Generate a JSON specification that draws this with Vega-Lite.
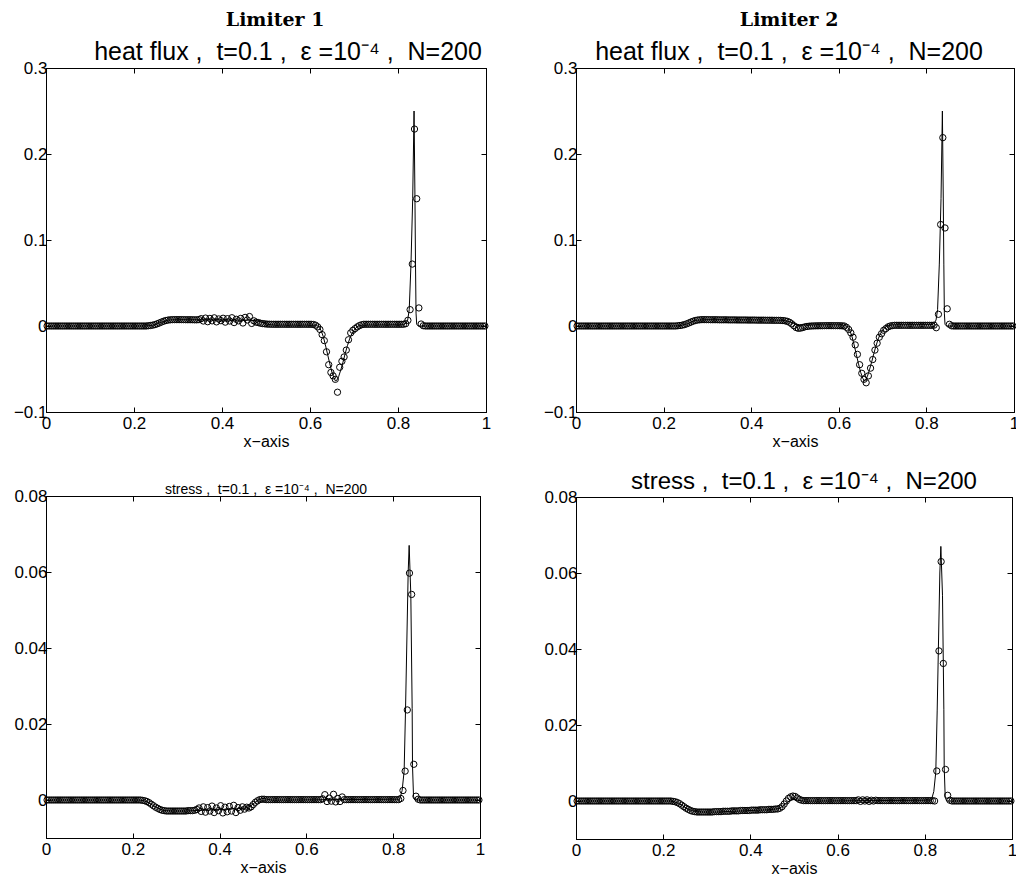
{
  "$schema": "https://vega.github.io/schema/vega-lite/v6.json",
  "background": "white",
  "padding": {"left": 12, "top": 10, "right": 0, "bottom": 0},
  "datasets": {
    "refh": [
      {"x":0,"v":0},{"x":0.22,"v":0},{"x":0.235,"v":0.0003},{"x":0.245,"v":0.0012},{"x":0.255,"v":0.0028},{"x":0.265,"v":0.005},{"x":0.275,"v":0.0066},{"x":0.285,"v":0.0072},{"x":0.3,"v":0.0074},{"x":0.35,"v":0.0073},{"x":0.4,"v":0.0071},{"x":0.45,"v":0.0068},{"x":0.47,"v":0.0066},{"x":0.48,"v":0.006},{"x":0.49,"v":0.0045},{"x":0.5,"v":0.0025},{"x":0.51,"v":0.0015},{"x":0.52,"v":0.0012},{"x":0.6,"v":0.0012},{"x":0.615,"v":0.0008},{"x":0.62,"v":-0.001},{"x":0.625,"v":-0.005},{"x":0.63,"v":-0.012},{"x":0.635,"v":-0.022},{"x":0.64,"v":-0.033},{"x":0.645,"v":-0.044},{"x":0.65,"v":-0.054},{"x":0.655,"v":-0.061},{"x":0.658,"v":-0.064},{"x":0.661,"v":-0.063},{"x":0.665,"v":-0.059},{"x":0.67,"v":-0.051},{"x":0.675,"v":-0.042},{"x":0.68,"v":-0.032},{"x":0.685,"v":-0.023},{"x":0.69,"v":-0.015},{"x":0.695,"v":-0.009},{"x":0.7,"v":-0.005},{"x":0.705,"v":-0.002},{"x":0.71,"v":0},{"x":0.72,"v":0.0012},{"x":0.81,"v":0.0015},{"x":0.818,"v":0.003},{"x":0.822,"v":0.007},{"x":0.8255,"v":0.019},{"x":0.8295,"v":0.072},{"x":0.8334,"v":0.148},{"x":0.8365,"v":0.25},{"x":0.8385,"v":0.15},{"x":0.8398,"v":0.072},{"x":0.841,"v":0.015},{"x":0.8425,"v":0.002},{"x":0.846,"v":0},{"x":1,"v":0}
    ],
    "refs": [
      {"x":0,"v":0},{"x":0.215,"v":0},{"x":0.225,"v":-0.0002},{"x":0.235,"v":-0.0006},{"x":0.245,"v":-0.0013},{"x":0.255,"v":-0.002},{"x":0.265,"v":-0.0025},{"x":0.275,"v":-0.0028},{"x":0.29,"v":-0.0029},{"x":0.32,"v":-0.0029},{"x":0.36,"v":-0.0027},{"x":0.4,"v":-0.0025},{"x":0.44,"v":-0.0023},{"x":0.46,"v":-0.0021},{"x":0.47,"v":-0.0017},{"x":0.48,"v":-0.0008},{"x":0.49,"v":0.0001},{"x":0.5,"v":0.0004},{"x":0.51,"v":0.0002},{"x":0.52,"v":0},{"x":0.815,"v":0.0002},{"x":0.8206,"v":0.0025},{"x":0.8252,"v":0.0076},{"x":0.8284,"v":0.0237},{"x":0.8345,"v":0.06},{"x":0.8368,"v":0.067},{"x":0.8406,"v":0.054},{"x":0.8437,"v":0.024},{"x":0.8445,"v":0.009},{"x":0.8468,"v":0.001},{"x":0.85,"v":0},{"x":1,"v":0}
    ],
    "num": [
      {"x":0.0025,"h1":0,"h2":0,"s1":0,"s2":0},{"x":0.0075,"h1":0,"h2":0,"s1":0,"s2":0},{"x":0.0125,"h1":0,"h2":0,"s1":0,"s2":0},{"x":0.0175,"h1":0,"h2":0,"s1":0,"s2":0},{"x":0.0225,"h1":0,"h2":0,"s1":0,"s2":0},{"x":0.0275,"h1":0,"h2":0,"s1":0,"s2":0},{"x":0.0325,"h1":0,"h2":0,"s1":0,"s2":0},{"x":0.0375,"h1":0,"h2":0,"s1":0,"s2":0},{"x":0.0425,"h1":0,"h2":0,"s1":0,"s2":0},{"x":0.0475,"h1":0,"h2":0,"s1":0,"s2":0},
      {"x":0.0525,"h1":0,"h2":0,"s1":0,"s2":0},{"x":0.0575,"h1":0,"h2":0,"s1":0,"s2":0},{"x":0.0625,"h1":0,"h2":0,"s1":0,"s2":0},{"x":0.0675,"h1":0,"h2":0,"s1":0,"s2":0},{"x":0.0725,"h1":0,"h2":0,"s1":0,"s2":0},{"x":0.0775,"h1":0,"h2":0,"s1":0,"s2":0},{"x":0.0825,"h1":0,"h2":0,"s1":0,"s2":0},{"x":0.0875,"h1":0,"h2":0,"s1":0,"s2":0},{"x":0.0925,"h1":0,"h2":0,"s1":0,"s2":0},{"x":0.0975,"h1":0,"h2":0,"s1":0,"s2":0},
      {"x":0.1025,"h1":0,"h2":0,"s1":0,"s2":0},{"x":0.1075,"h1":0,"h2":0,"s1":0,"s2":0},{"x":0.1125,"h1":0,"h2":0,"s1":0,"s2":0},{"x":0.1175,"h1":0,"h2":0,"s1":0,"s2":0},{"x":0.1225,"h1":0,"h2":0,"s1":0,"s2":0},{"x":0.1275,"h1":0,"h2":0,"s1":0,"s2":0},{"x":0.1325,"h1":0,"h2":0,"s1":0,"s2":0},{"x":0.1375,"h1":0,"h2":0,"s1":0,"s2":0},{"x":0.1425,"h1":0,"h2":0,"s1":0,"s2":0},{"x":0.1475,"h1":0,"h2":0,"s1":0,"s2":0},
      {"x":0.1525,"h1":0,"h2":0,"s1":0,"s2":0},{"x":0.1575,"h1":0,"h2":0,"s1":0,"s2":0},{"x":0.1625,"h1":0,"h2":0,"s1":0,"s2":0},{"x":0.1675,"h1":0,"h2":0,"s1":0,"s2":0},{"x":0.1725,"h1":0,"h2":0,"s1":0,"s2":0},{"x":0.1775,"h1":0,"h2":0,"s1":0,"s2":0},{"x":0.1825,"h1":0,"h2":0,"s1":0,"s2":0},{"x":0.1875,"h1":0,"h2":0,"s1":0,"s2":0},{"x":0.1925,"h1":0,"h2":0,"s1":0,"s2":0},{"x":0.1975,"h1":0,"h2":0,"s1":0,"s2":0},
      {"x":0.2025,"h1":0,"h2":0,"s1":0,"s2":0},{"x":0.2075,"h1":0,"h2":0,"s1":0,"s2":0},{"x":0.2125,"h1":0,"h2":0,"s1":0,"s2":0},{"x":0.2175,"h1":0,"h2":0,"s1":0,"s2":0},
      {"x":0.2225,"h1":0,"h2":0,"s1":-0.0001,"s2":-0.0001},{"x":0.2275,"h1":0,"h2":0,"s1":-0.0002,"s2":-0.0002},{"x":0.2325,"h1":0.0003,"h2":0.0003,"s1":-0.0004,"s2":-0.0004},{"x":0.2375,"h1":0.0006,"h2":0.0006,"s1":-0.0007,"s2":-0.0007},{"x":0.2425,"h1":0.001,"h2":0.001,"s1":-0.0011,"s2":-0.0011},{"x":0.2475,"h1":0.0016,"h2":0.0016,"s1":-0.0015,"s2":-0.0015},
      {"x":0.2525,"h1":0.0025,"h2":0.0025,"s1":-0.0019,"s2":-0.0019},{"x":0.2575,"h1":0.0035,"h2":0.0035,"s1":-0.0022,"s2":-0.0022},{"x":0.2625,"h1":0.0046,"h2":0.0046,"s1":-0.0025,"s2":-0.0025},{"x":0.2675,"h1":0.0056,"h2":0.0056,"s1":-0.0027,"s2":-0.0027},{"x":0.2725,"h1":0.0064,"h2":0.0064,"s1":-0.0028,"s2":-0.0028},{"x":0.2775,"h1":0.0069,"h2":0.0069,"s1":-0.0029,"s2":-0.0029},
      {"x":0.2825,"h1":0.0072,"h2":0.0072,"s1":-0.0029,"s2":-0.0029},{"x":0.2875,"h1":0.0074,"h2":0.0074,"s1":-0.0029,"s2":-0.0029},{"x":0.2925,"h1":0.0074,"h2":0.0074,"s1":-0.0029,"s2":-0.0029},{"x":0.2975,"h1":0.0074,"h2":0.0074,"s1":-0.0029,"s2":-0.0029},{"x":0.3025,"h1":0.0074,"h2":0.0074,"s1":-0.0029,"s2":-0.0029},{"x":0.3075,"h1":0.0074,"h2":0.0073,"s1":-0.0029,"s2":-0.0029},
      {"x":0.3125,"h1":0.0074,"h2":0.0073,"s1":-0.0029,"s2":-0.0029},{"x":0.3175,"h1":0.0073,"h2":0.0073,"s1":-0.0029,"s2":-0.0028},{"x":0.3225,"h1":0.0073,"h2":0.0073,"s1":-0.0029,"s2":-0.0028},{"x":0.3275,"h1":0.0073,"h2":0.0072,"s1":-0.0028,"s2":-0.0028},{"x":0.3325,"h1":0.0073,"h2":0.0072,"s1":-0.0028,"s2":-0.0028},{"x":0.3375,"h1":0.0072,"h2":0.0072,"s1":-0.0028,"s2":-0.0027},
      {"x":0.3425,"h1":0.0072,"h2":0.0072,"s1":-0.0027,"s2":-0.0027},{"x":0.3475,"h1":0.0074,"h2":0.0071,"s1":-0.0025,"s2":-0.0027},{"x":0.3525,"h1":0.0085,"h2":0.0071,"s1":-0.0021,"s2":-0.0027},{"x":0.3575,"h1":0.0058,"h2":0.0071,"s1":-0.003,"s2":-0.0026},{"x":0.3625,"h1":0.0092,"h2":0.0071,"s1":-0.0018,"s2":-0.0026},{"x":0.3675,"h1":0.005,"h2":0.007,"s1":-0.0032,"s2":-0.0026},
      {"x":0.3725,"h1":0.0088,"h2":0.007,"s1":-0.002,"s2":-0.0026},{"x":0.3775,"h1":0.006,"h2":0.007,"s1":-0.0029,"s2":-0.0025},{"x":0.3825,"h1":0.0095,"h2":0.007,"s1":-0.0016,"s2":-0.0025},{"x":0.3875,"h1":0.0048,"h2":0.007,"s1":-0.0033,"s2":-0.0025},{"x":0.3925,"h1":0.0082,"h2":0.0069,"s1":-0.0021,"s2":-0.0025},{"x":0.3975,"h1":0.0062,"h2":0.0069,"s1":-0.0028,"s2":-0.0025},
      {"x":0.4025,"h1":0.009,"h2":0.0069,"s1":-0.0015,"s2":-0.0024},{"x":0.4075,"h1":0.0045,"h2":0.0069,"s1":-0.0034,"s2":-0.0024},{"x":0.4125,"h1":0.0085,"h2":0.0068,"s1":-0.0019,"s2":-0.0024},{"x":0.4175,"h1":0.0058,"h2":0.0068,"s1":-0.0031,"s2":-0.0024},{"x":0.4225,"h1":0.0096,"h2":0.0068,"s1":-0.0017,"s2":-0.0023},{"x":0.4275,"h1":0.004,"h2":0.0068,"s1":-0.0029,"s2":-0.0023},
      {"x":0.4325,"h1":0.0078,"h2":0.0067,"s1":-0.0014,"s2":-0.0023},{"x":0.4375,"h1":0.006,"h2":0.0067,"s1":-0.0033,"s2":-0.0023},{"x":0.4425,"h1":0.0088,"h2":0.0067,"s1":-0.002,"s2":-0.0022},{"x":0.4475,"h1":0.0035,"h2":0.0067,"s1":-0.0027,"s2":-0.0022},{"x":0.4525,"h1":0.01,"h2":0.0066,"s1":-0.0018,"s2":-0.0022},{"x":0.4575,"h1":0.007,"h2":0.0066,"s1":-0.0024,"s2":-0.0021},
      {"x":0.4625,"h1":0.011,"h2":0.0066,"s1":-0.0019,"s2":-0.0021},{"x":0.4675,"h1":0.003,"h2":0.0065,"s1":-0.0021,"s2":-0.0019},{"x":0.4725,"h1":0.006,"h2":0.0063,"s1":-0.0018,"s2":-0.0015},{"x":0.4775,"h1":0.0045,"h2":0.006,"s1":-0.0012,"s2":-0.0008},{"x":0.4825,"h1":0.004,"h2":0.0054,"s1":-0.0006,"s2":0},{"x":0.4875,"h1":0.0032,"h2":0.0043,"s1":-0.0002,"s2":0.0007},
      {"x":0.4925,"h1":0.0028,"h2":0.0025,"s1":0.0001,"s2":0.0011},{"x":0.4975,"h1":0.0025,"h2":0.0003,"s1":0.0002,"s2":0.0013},{"x":0.5025,"h1":0.0022,"h2":-0.0018,"s1":0.0002,"s2":0.0012},{"x":0.5075,"h1":0.0021,"h2":-0.0027,"s1":0.0001,"s2":0.0008},{"x":0.5125,"h1":0.002,"h2":-0.0025,"s1":0.0001,"s2":0.0004},{"x":0.5175,"h1":0.002,"h2":-0.0018,"s1":0.0001,"s2":0.0002},
      {"x":0.5225,"h1":0.002,"h2":-0.001,"s1":0.0001,"s2":0.0001},{"x":0.5275,"h1":0.002,"h2":-0.0005,"s1":0.0001,"s2":0.0001},{"x":0.5325,"h1":0.002,"h2":-0.0002,"s1":0.0001,"s2":0.0001},{"x":0.5375,"h1":0.002,"h2":0,"s1":0.0001,"s2":0.0001},{"x":0.5425,"h1":0.002,"h2":0.0001,"s1":0.0001,"s2":0.0001},{"x":0.5475,"h1":0.002,"h2":0.0002,"s1":0.0001,"s2":0.0001},
      {"x":0.5525,"h1":0.002,"h2":0.0002,"s1":0.0001,"s2":0.0001},{"x":0.5575,"h1":0.002,"h2":0.0003,"s1":0.0001,"s2":0.0001},{"x":0.5625,"h1":0.002,"h2":0.0003,"s1":0.0001,"s2":0.0001},{"x":0.5675,"h1":0.002,"h2":0.0004,"s1":0.0001,"s2":0.0001},{"x":0.5725,"h1":0.002,"h2":0.0004,"s1":0.0001,"s2":0.0001},{"x":0.5775,"h1":0.002,"h2":0.0004,"s1":0.0001,"s2":0.0001},
      {"x":0.5825,"h1":0.002,"h2":0.0004,"s1":0.0001,"s2":0.0001},{"x":0.5875,"h1":0.002,"h2":0.0004,"s1":0.0001,"s2":0.0001},{"x":0.5925,"h1":0.002,"h2":0.0004,"s1":0.0001,"s2":0.0001},{"x":0.5975,"h1":0.002,"h2":0.0004,"s1":0.0001,"s2":0.0001},{"x":0.6025,"h1":0.002,"h2":0.0003,"s1":0.0001,"s2":0.0001},{"x":0.6075,"h1":0.0018,"h2":0.0002,"s1":0.0001,"s2":0.0001},
      {"x":0.6125,"h1":0.001,"h2":0,"s1":0.0001,"s2":0.0001},{"x":0.6175,"h1":-0.001,"h2":-0.0015,"s1":0.0001,"s2":0.0001},{"x":0.6225,"h1":-0.004,"h2":-0.004,"s1":0.0001,"s2":0.0001},{"x":0.6275,"h1":-0.01,"h2":-0.008,"s1":0.0001,"s2":0.0001},{"x":0.6325,"h1":-0.017,"h2":-0.013,"s1":0.0001,"s2":0.0001},{"x":0.6375,"h1":-0.03,"h2":-0.022,"s1":0.0003,"s2":0.0001},
      {"x":0.6425,"h1":-0.045,"h2":-0.033,"s1":0.0014,"s2":0.0001},{"x":0.6475,"h1":-0.054,"h2":-0.045,"s1":-0.0004,"s2":0.0003},{"x":0.6525,"h1":-0.058,"h2":-0.055,"s1":0.0005,"s2":-0.0001},{"x":0.6575,"h1":-0.062,"h2":-0.062,"s1":-0.0003,"s2":0.0003},{"x":0.6625,"h1":-0.077,"h2":-0.066,"s1":0.0015,"s2":0},{"x":0.6675,"h1":-0.048,"h2":-0.058,"s1":-0.0005,"s2":0.0003},
      {"x":0.6725,"h1":-0.041,"h2":-0.049,"s1":0.0004,"s2":-0.0001},{"x":0.6775,"h1":-0.036,"h2":-0.039,"s1":-0.0004,"s2":0.0002},{"x":0.6825,"h1":-0.028,"h2":-0.028,"s1":0.0008,"s2":0},{"x":0.6875,"h1":-0.016,"h2":-0.02,"s1":0.0001,"s2":0.0002},{"x":0.6925,"h1":-0.008,"h2":-0.013,"s1":0.0001,"s2":0.0001},{"x":0.6975,"h1":-0.005,"h2":-0.009,"s1":0.0001,"s2":0.0001},
      {"x":0.7025,"h1":-0.003,"h2":-0.005,"s1":0.0001,"s2":0.0001},{"x":0.7075,"h1":-0.001,"h2":-0.003,"s1":0.0001,"s2":0.0001},{"x":0.7125,"h1":0.0005,"h2":-0.001,"s1":0.0001,"s2":0.0001},{"x":0.7175,"h1":0.0015,"h2":0,"s1":0.0001,"s2":0.0001},{"x":0.7225,"h1":0.002,"h2":0.0005,"s1":0.0001,"s2":0.0001},
      {"x":0.7275,"h1":0.002,"h2":0.0008,"s1":0.0001,"s2":0.0001},{"x":0.7325,"h1":0.002,"h2":0.0008,"s1":0.0001,"s2":0.0001},{"x":0.7375,"h1":0.002,"h2":0.0008,"s1":0.0001,"s2":0.0001},{"x":0.7425,"h1":0.002,"h2":0.0008,"s1":0.0001,"s2":0.0001},{"x":0.7475,"h1":0.002,"h2":0.0008,"s1":0.0001,"s2":0.0001},{"x":0.7525,"h1":0.002,"h2":0.0008,"s1":0.0001,"s2":0.0001},
      {"x":0.7575,"h1":0.002,"h2":0.0008,"s1":0.0001,"s2":0.0001},{"x":0.7625,"h1":0.002,"h2":0.0008,"s1":0.0001,"s2":0.0001},{"x":0.7675,"h1":0.002,"h2":0.0008,"s1":0.0001,"s2":0.0001},{"x":0.7725,"h1":0.002,"h2":0.0008,"s1":0.0001,"s2":0.0001},{"x":0.7775,"h1":0.002,"h2":0.0008,"s1":0.0001,"s2":0.0001},{"x":0.7825,"h1":0.002,"h2":0.0008,"s1":0.0001,"s2":0.0001},
      {"x":0.7875,"h1":0.002,"h2":0.0008,"s1":0.0001,"s2":0.0001},{"x":0.7925,"h1":0.002,"h2":0.0008,"s1":0.0001,"s2":0.0001},{"x":0.7975,"h1":0.002,"h2":0.0008,"s1":0.0001,"s2":0.0001},{"x":0.8025,"h1":0.002,"h2":0.0008,"s1":0.0001,"s2":0.0001},{"x":0.8075,"h1":0.002,"h2":0.0008,"s1":0.0001,"s2":0.0001},{"x":0.8125,"h1":0.002,"h2":0.0008,"s1":0.0001,"s2":0.0001},
      {"x":0.8175,"h1":0.0027,"h2":0.001,"s1":0.0004,"s2":0.0001},{"x":0.8225,"h1":0.0066,"h2":-0.002,"s1":0.0025,"s2":0},{"x":0.8275,"h1":0.019,"h2":0.0136,"s1":0.0076,"s2":0.0079},{"x":0.8325,"h1":0.072,"h2":0.118,"s1":0.0237,"s2":0.0395},{"x":0.8375,"h1":0.229,"h2":0.219,"s1":0.0597,"s2":0.063},{"x":0.8425,"h1":0.148,"h2":0.114,"s1":0.0541,"s2":0.0362},
      {"x":0.8475,"h1":0.021,"h2":0.02,"s1":0.0094,"s2":0.0083},{"x":0.8525,"h1":0.0023,"h2":0.002,"s1":0.001,"s2":0.0015},{"x":0.8575,"h1":0.0003,"h2":0.0002,"s1":0.0002,"s2":0.0002},
      {"x":0.8625,"h1":0,"h2":0,"s1":0,"s2":0},{"x":0.8675,"h1":0,"h2":0,"s1":0,"s2":0},{"x":0.8725,"h1":0,"h2":0,"s1":0,"s2":0},{"x":0.8775,"h1":0,"h2":0,"s1":0,"s2":0},{"x":0.8825,"h1":0,"h2":0,"s1":0,"s2":0},{"x":0.8875,"h1":0,"h2":0,"s1":0,"s2":0},{"x":0.8925,"h1":0,"h2":0,"s1":0,"s2":0},
      {"x":0.8975,"h1":0,"h2":0,"s1":0,"s2":0},{"x":0.9025,"h1":0,"h2":0,"s1":0,"s2":0},{"x":0.9075,"h1":0,"h2":0,"s1":0,"s2":0},{"x":0.9125,"h1":0,"h2":0,"s1":0,"s2":0},{"x":0.9175,"h1":0,"h2":0,"s1":0,"s2":0},{"x":0.9225,"h1":0,"h2":0,"s1":0,"s2":0},{"x":0.9275,"h1":0,"h2":0,"s1":0,"s2":0},
      {"x":0.9325,"h1":0,"h2":0,"s1":0,"s2":0},{"x":0.9375,"h1":0,"h2":0,"s1":0,"s2":0},{"x":0.9425,"h1":0,"h2":0,"s1":0,"s2":0},{"x":0.9475,"h1":0,"h2":0,"s1":0,"s2":0},{"x":0.9525,"h1":0,"h2":0,"s1":0,"s2":0},{"x":0.9575,"h1":0,"h2":0,"s1":0,"s2":0},{"x":0.9625,"h1":0,"h2":0,"s1":0,"s2":0},
      {"x":0.9675,"h1":0,"h2":0,"s1":0,"s2":0},{"x":0.9725,"h1":0,"h2":0,"s1":0,"s2":0},{"x":0.9775,"h1":0,"h2":0,"s1":0,"s2":0},{"x":0.9825,"h1":0,"h2":0,"s1":0,"s2":0},{"x":0.9875,"h1":0,"h2":0,"s1":0,"s2":0},{"x":0.9925,"h1":0,"h2":0,"s1":0,"s2":0},{"x":0.9975,"h1":0,"h2":0,"s1":0,"s2":0}
    ]
  },
  "spacing": 50,
  "hconcat": [
    {
      "title": {"text": "Limiter 1", "font": "DejaVu Serif", "fontSize": 19, "fontWeight": "bold", "anchor": "middle", "offset": 10, "dx": 23},
      "spacing": 32,
      "vconcat": [
        {
          "width": 440, "height": 344,
          "title": {"text": "heat flux ,\u00a0 t=0.1 ,\u00a0 ε =10⁻⁴ ,\u00a0 N=200", "fontSize": 25, "anchor": "middle", "frame": "group", "offset": -6, "dx": 22},
          "layer": [
            {"data": {"name": "refh"}, "mark": {"type": "line", "color": "black", "strokeWidth": 1},
             "encoding": {
               "x": {"field": "x", "type": "quantitative", "scale": {"domain": [0, 1], "nice": false, "zero": false}, "axis": {"orient": "bottom", "values": [0, 0.2, 0.4, 0.6, 0.8, 1], "format": "~g", "title": "x−axis"}},
               "y": {"field": "v", "type": "quantitative", "scale": {"domain": [-0.1, 0.3], "nice": false, "zero": false}, "axis": {"orient": "left", "values": [-0.1, 0, 0.1, 0.2, 0.3], "format": "~g", "title": null}}
             }},
            {"data": {"name": "num"}, "mark": {"type": "point", "shape": "circle", "size": 40, "filled": false, "color": "black", "strokeWidth": 1, "opacity": 1},
             "encoding": {
               "x": {"field": "x", "type": "quantitative", "scale": {"domain": [0, 1], "nice": false, "zero": false}, "axis": {"orient": "top", "values": [0, 0.2, 0.4, 0.6, 0.8, 1], "labels": false, "title": null}},
               "y": {"field": "h1", "type": "quantitative", "scale": {"domain": [-0.1, 0.3], "nice": false, "zero": false}, "axis": {"orient": "right", "values": [-0.1, 0, 0.1, 0.2, 0.3], "labels": false, "title": null}}
             }}
          ],
          "resolve": {"axis": {"x": "independent", "y": "independent"}}
        },
        {
          "width": 434, "height": 342,
          "title": {"text": "stress ,\u00a0 t=0.1 ,\u00a0 ε =10⁻⁴ ,\u00a0 N=200", "fontSize": 14, "anchor": "middle", "frame": "group", "offset": -10, "dx": 3},
          "layer": [
            {"data": {"name": "refs"}, "mark": {"type": "line", "color": "black", "strokeWidth": 1},
             "encoding": {
               "x": {"field": "x", "type": "quantitative", "scale": {"domain": [0, 1], "nice": false, "zero": false}, "axis": {"orient": "bottom", "values": [0, 0.2, 0.4, 0.6, 0.8, 1], "format": "~g", "title": "x−axis"}},
               "y": {"field": "v", "type": "quantitative", "scale": {"domain": [-0.01, 0.08], "nice": false, "zero": false}, "axis": {"orient": "left", "values": [0, 0.02, 0.04, 0.06, 0.08], "format": "~g", "title": null}}
             }},
            {"data": {"name": "num"}, "mark": {"type": "point", "shape": "circle", "size": 40, "filled": false, "color": "black", "strokeWidth": 1, "opacity": 1},
             "encoding": {
               "x": {"field": "x", "type": "quantitative", "scale": {"domain": [0, 1], "nice": false, "zero": false}, "axis": {"orient": "top", "values": [0, 0.2, 0.4, 0.6, 0.8, 1], "labels": false, "title": null}},
               "y": {"field": "s1", "type": "quantitative", "scale": {"domain": [-0.01, 0.08], "nice": false, "zero": false}, "axis": {"orient": "right", "values": [0, 0.02, 0.04, 0.06, 0.08], "labels": false, "title": null}}
             }}
          ],
          "resolve": {"axis": {"x": "independent", "y": "independent"}}
        }
      ]
    },
    {
      "title": {"text": "Limiter 2", "font": "DejaVu Serif", "fontSize": 19, "fontWeight": "bold", "anchor": "middle", "offset": 10, "dx": 8},
      "spacing": 19,
      "vconcat": [
        {
          "width": 438, "height": 344,
          "title": {"text": "heat flux ,\u00a0 t=0.1 ,\u00a0 ε =10⁻⁴ ,\u00a0 N=200", "fontSize": 25, "anchor": "middle", "frame": "group", "offset": -6, "dx": -6},
          "layer": [
            {"data": {"name": "refh"}, "mark": {"type": "line", "color": "black", "strokeWidth": 1},
             "encoding": {
               "x": {"field": "x", "type": "quantitative", "scale": {"domain": [0, 1], "nice": false, "zero": false}, "axis": {"orient": "bottom", "values": [0, 0.2, 0.4, 0.6, 0.8, 1], "format": "~g", "title": "x−axis"}},
               "y": {"field": "v", "type": "quantitative", "scale": {"domain": [-0.1, 0.3], "nice": false, "zero": false}, "axis": {"orient": "left", "values": [-0.1, 0, 0.1, 0.2, 0.3], "format": "~g", "title": null}}
             }},
            {"data": {"name": "num"}, "mark": {"type": "point", "shape": "circle", "size": 40, "filled": false, "color": "black", "strokeWidth": 1, "opacity": 1},
             "encoding": {
               "x": {"field": "x", "type": "quantitative", "scale": {"domain": [0, 1], "nice": false, "zero": false}, "axis": {"orient": "top", "values": [0, 0.2, 0.4, 0.6, 0.8, 1], "labels": false, "title": null}},
               "y": {"field": "h2", "type": "quantitative", "scale": {"domain": [-0.1, 0.3], "nice": false, "zero": false}, "axis": {"orient": "right", "values": [-0.1, 0, 0.1, 0.2, 0.3], "labels": false, "title": null}}
             }}
          ],
          "resolve": {"axis": {"x": "independent", "y": "independent"}}
        },
        {
          "width": 436, "height": 342,
          "title": {"text": "stress ,\u00a0 t=0.1 ,\u00a0 ε =10⁻⁴ ,\u00a0 N=200", "fontSize": 24, "anchor": "middle", "frame": "group", "offset": -6, "dx": 10},
          "layer": [
            {"data": {"name": "refs"}, "mark": {"type": "line", "color": "black", "strokeWidth": 1},
             "encoding": {
               "x": {"field": "x", "type": "quantitative", "scale": {"domain": [0, 1], "nice": false, "zero": false}, "axis": {"orient": "bottom", "values": [0, 0.2, 0.4, 0.6, 0.8, 1], "format": "~g", "title": "x−axis"}},
               "y": {"field": "v", "type": "quantitative", "scale": {"domain": [-0.01, 0.08], "nice": false, "zero": false}, "axis": {"orient": "left", "values": [0, 0.02, 0.04, 0.06, 0.08], "format": "~g", "title": null}}
             }},
            {"data": {"name": "num"}, "mark": {"type": "point", "shape": "circle", "size": 40, "filled": false, "color": "black", "strokeWidth": 1, "opacity": 1},
             "encoding": {
               "x": {"field": "x", "type": "quantitative", "scale": {"domain": [0, 1], "nice": false, "zero": false}, "axis": {"orient": "top", "values": [0, 0.2, 0.4, 0.6, 0.8, 1], "labels": false, "title": null}},
               "y": {"field": "s2", "type": "quantitative", "scale": {"domain": [-0.01, 0.08], "nice": false, "zero": false}, "axis": {"orient": "right", "values": [0, 0.02, 0.04, 0.06, 0.08], "labels": false, "title": null}}
             }}
          ],
          "resolve": {"axis": {"x": "independent", "y": "independent"}}
        }
      ]
    }
  ],
  "config": {
    "font": "Liberation Sans",
    "view": {"stroke": "black", "strokeWidth": 1},
    "axis": {
      "domainColor": "black", "domainWidth": 1, "tickColor": "black", "tickWidth": 1, "tickSize": -5,
      "labelColor": "black", "labelFont": "Liberation Sans", "labelFontSize": 17, "labelFlush": false, "labelOverlap": false,
      "grid": false, "titleColor": "black", "titleFont": "Liberation Sans", "titleFontSize": 16, "titleFontWeight": "normal"
    },
    "axisX": {"labelPadding": 8, "titlePadding": 2},
    "axisY": {"labelPadding": 4},
    "title": {"color": "black", "font": "Liberation Sans", "fontWeight": "normal", "subtitleColor": "black"}
  }
}
